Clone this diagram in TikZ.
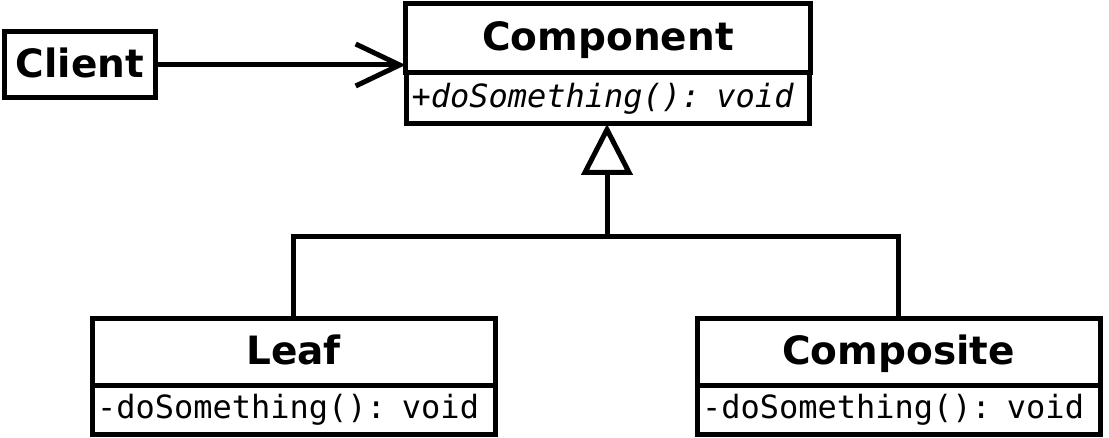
\documentclass[tikz,border=0pt]{standalone}
\usepackage{fontspec}
\setmainfont{DejaVu Sans}
\newfontfamily\umlmono{DejaVu Sans Mono}
\usetikzlibrary{arrows.meta}
\tikzset{
  umlline/.style={line width=5pt, line join=miter},
  titlebox/.style={draw, umlline, rectangle, outer sep=0pt, inner sep=0pt, minimum height=67pt,
    font=\fontsize{39}{41}\selectfont\bfseries, text height=28pt, text depth=3pt},
  methodbox/.style={draw, umlline, rectangle, outer sep=0pt, inner ysep=0pt, inner xsep=5pt, minimum height=48pt,
    text width=393pt, align=left, font=\fontsize{32}{34}\selectfont\umlmono},
  inherit/.style={umlline, -{Triangle[open, length=51pt, width=51pt]}},
  assoc/.style={umlline, -{Straight Barb[length=44pt, width=42pt]}}
}
\begin{document}
\begin{tikzpicture}[x=1pt, y=-1pt]
\useasboundingbox (0,0) rectangle (1109,438);
% Client
\node[titlebox, minimum width=151pt, minimum height=66pt] (client) at (80,65) {Client};
% Component
\node[titlebox, minimum width=405pt, minimum height=69pt] (compt) at (608,38.5) {Component};
\node[methodbox, minimum height=51pt, anchor=north] (compm) at (compt.south) {\itshape +doSomething(): void};
% Leaf
\node[titlebox, minimum width=403pt] (leaft) at (293.5,352.5) {Leaf};
\node[methodbox, anchor=north] (leafm) at (leaft.south) {-doSomething(): void};
% Composite
\node[titlebox, minimum width=403pt] (compot) at (898.5,352.5) {Composite};
\node[methodbox, anchor=north] (compom) at (compot.south) {-doSomething(): void};
% connectors
\coordinate (bus) at (607,237);
\draw[assoc] (client.east) -- (client.east -| compt.west);
\draw[umlline] (leaft.north) |- (bus) -| (compot.north);
\draw[inherit] (bus) -- (bus |- compm.south);
\end{tikzpicture}
\end{document}
